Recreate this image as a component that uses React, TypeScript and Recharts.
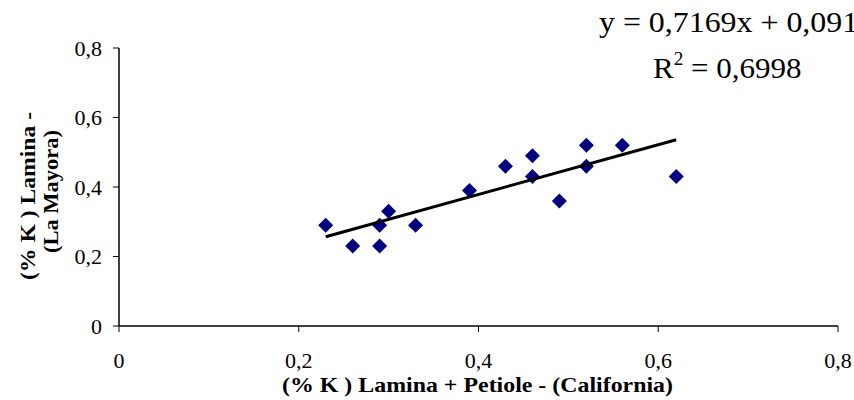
import { ScatterChart, Scatter, XAxis, YAxis } from 'recharts'

// % K, Lamina + Petiole (California) vs Lamina (La Mayora)
const californiaK = [0.23, 0.26, 0.29, 0.29, 0.3, 0.33, 0.39, 0.43, 0.46, 0.46, 0.49, 0.52, 0.52, 0.56, 0.62]
const laMayoraK = [0.29, 0.23, 0.29, 0.23, 0.33, 0.29, 0.39, 0.46, 0.49, 0.43, 0.36, 0.52, 0.46, 0.52, 0.43]

// linear trendline ends, as drawn
const trendX = [0.23, 0.62]
const trendY = [0.257, 0.536]

const xTicks = [0, 0.2, 0.4, 0.6, 0.8]
const yTicks = [0, 0.2, 0.4, 0.6, 0.8]

const points = californiaK.map((x, i) => ({ x, y: laMayoraK[i] }))
const trend = trendX.map((x, i) => ({ x, y: trendY[i] }))

const serif = '"Liberation Serif", "Times New Roman", serif'
const fmt = (v: number) => (v === 0 ? '0' : v.toFixed(1).replace('.', ','))

const Diamond = (props: any) => {
  const { cx, cy } = props
  const r = 7.5
  return <polygon points={`${cx},${cy - r} ${cx + r},${cy} ${cx},${cy + r} ${cx - r},${cy}`} fill="#000080" />
}

export default function App() {
  return (
    <div style={{ position: 'absolute', left: 0, top: 0, width: 854, height: 400, overflow: 'hidden', background: '#fff' }}>
      <ScatterChart width={854} height={400} margin={{ top: 48, right: 16, bottom: 0, left: 59 }}>
        <XAxis
          type="number"
          dataKey="x"
          domain={[0, 0.8]}
          ticks={xTicks}
          tickFormatter={fmt}
          height={74}
          axisLine={{ stroke: '#000', strokeWidth: 1.5 }}
          tickLine={{ stroke: '#000' }}
          tickSize={6}
          tickMargin={20}
          tick={{ fill: '#000', fontSize: 22, fontFamily: serif }}
          label={{
            content: () => (
              <text x={282} y={392} textLength={391} lengthAdjust="spacingAndGlyphs" fontFamily={serif} fontWeight="bold" fontSize={21} fill="#000">
                (% K ) Lamina + Petiole - (California)
              </text>
            ),
          }}
        />
        <YAxis
          type="number"
          dataKey="y"
          domain={[0, 0.8]}
          ticks={yTicks}
          tickFormatter={fmt}
          width={60}
          axisLine={{ stroke: '#000', strokeWidth: 1.5 }}
          tickLine={{ stroke: '#000' }}
          tickSize={6}
          tickMargin={11}
          tick={{ fill: '#000', fontSize: 22, fontFamily: serif }}
          label={{
            content: () => (
              <g fontFamily={serif} fontWeight="bold" fontSize={21} fill="#000">
                <text x={0} y={0} textLength={168} lengthAdjust="spacingAndGlyphs" transform="translate(35,280) rotate(-90)">
                  (% K ) Lamina -
                </text>
                <text x={0} y={0} textLength={123} lengthAdjust="spacingAndGlyphs" transform="translate(58,253) rotate(-90)">
                  (La Mayora)
                </text>
              </g>
            ),
          }}
        />
        <Scatter data={points} shape={Diamond} isAnimationActive={false} />
        <Scatter
          data={trend}
          line={{ stroke: '#000', strokeWidth: 3 }}
          shape={() => <g />}
          isAnimationActive={false}
        />
      </ScatterChart>
      <svg width={854} height={400} style={{ position: 'absolute', left: 0, top: 0, pointerEvents: 'none' }}>
        <text transform="translate(599,32) scale(1.1,1)" fontFamily={serif} fontSize={29} fill="#000">
          y = 0,7169x + 0,0919
        </text>
        <text transform="translate(653,78) scale(1.07,1)" fontFamily={serif} fontSize={29} fill="#000">
          R<tspan fontSize={18} dy={-13}>2</tspan>
          <tspan dy={13}> = 0,6998</tspan>
        </text>
      </svg>
    </div>
  )
}
